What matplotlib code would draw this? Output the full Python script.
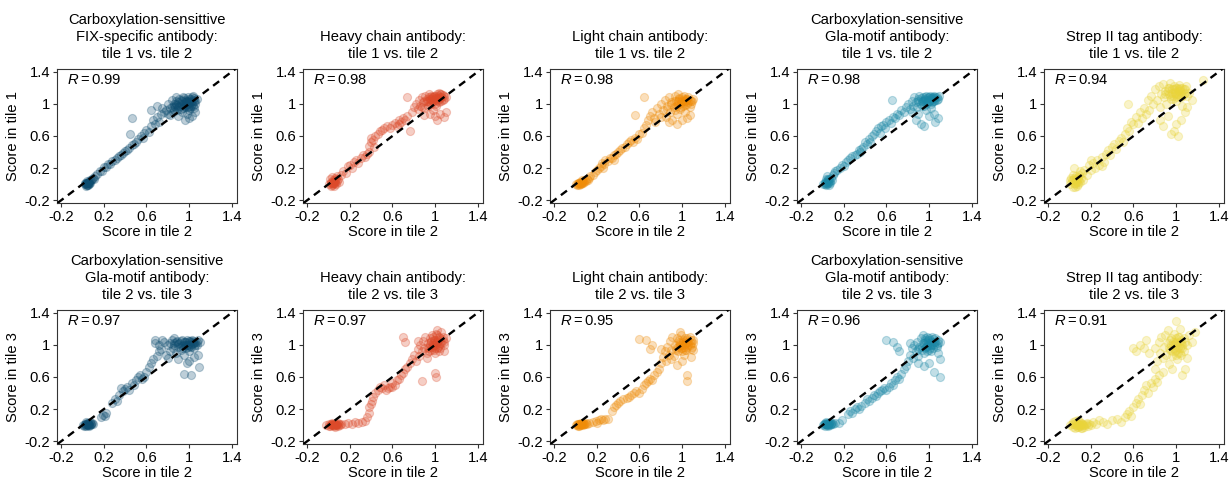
# 10个散点图：比较不同抗体在各tile之间的得分
import matplotlib
matplotlib.use('Agg')
from matplotlib import pyplot as plt

plt.rcParams['font.family'] = ['Liberation Sans', 'DejaVu Sans']
plt.rcParams['mathtext.fontset'] = 'custom'
plt.rcParams['mathtext.rm'] = 'Liberation Sans'
plt.rcParams['mathtext.it'] = 'Liberation Sans:italic'

titles = [
    "Carboxylation-sensittive\nFIX-specific antibody:\ntile 1 vs. tile 2",
    "Heavy chain antibody:\ntile 1 vs. tile 2",
    "Light chain antibody:\ntile 1 vs. tile 2",
    "Carboxylation-sensitive\nGla-motif antibody:\ntile 1 vs. tile 2",
    "Strep II tag antibody:\ntile 1 vs. tile 2",
    "Carboxylation-sensitive\nGla-motif antibody:\ntile 2 vs. tile 3",
    "Heavy chain antibody:\ntile 2 vs. tile 3",
    "Light chain antibody:\ntile 2 vs. tile 3",
    "Carboxylation-sensitive\nGla-motif antibody:\ntile 2 vs. tile 3",
    "Strep II tag antibody:\ntile 2 vs. tile 3",
]
r_values = [0.99, 0.98, 0.98, 0.98, 0.94, 0.97, 0.97, 0.95, 0.96, 0.91]
y_labels = ["Score in tile 1", "Score in tile 3"]
x_label = "Score in tile 2"
ticks = [-0.2, 0.2, 0.6, 1, 1.4]
tick_labels = ["-0.2", "0.2", "0.6", "1", "1.4"]
colors = ["#0e4d70", "#dc4a2a", "#ef8c08", "#1a87a5", "#e9d43a"]

# (tile 2 score, other tile score)
fix_t12 = [(0.02,0.00),(0.03,0.02),(0.04,-0.01),(0.05,0.01),(0.03,-0.02),(0.06,0.03),(0.04,0.04),(0.07,0.02),
    (0.05,-0.01),(0.02,0.02),(0.08,0.05),(0.06,0.00),(0.09,0.07),(0.10,0.08),(0.12,0.10),(0.11,0.07),(0.04,0.01),(0.07,0.05),
    (0.03,0.00),(0.04,0.02),(0.05,0.03),(0.06,0.01),(0.04,-0.01),(0.05,0.02),
    (0.14,0.13),(0.16,0.16),(0.18,0.17),(0.20,0.21),(0.22,0.21),(0.24,0.25),(0.26,0.25),(0.28,0.29),(0.30,0.30),
    (0.32,0.32),(0.34,0.35),(0.36,0.36),(0.38,0.39),(0.40,0.41),(0.42,0.43),(0.44,0.45),(0.46,0.49),(0.48,0.50),
    (0.50,0.53),(0.45,0.62),(0.52,0.56),(0.55,0.60),(0.57,0.57),(0.58,0.64),(0.60,0.68),(0.62,0.65),(0.64,0.72),
    (0.66,0.80),(0.68,0.75),(0.70,0.84),(0.72,0.78),(0.74,0.87),(0.75,0.95),(0.76,0.90),(0.46,0.82),(0.64,0.92),(0.70,0.98),
    (0.78,0.92),(0.80,1.00),(0.82,0.95),(0.84,1.05),(0.85,0.90),(0.86,1.00),(0.87,0.96),(0.88,1.08),(0.89,0.92),
    (0.90,1.02),(0.91,0.98),(0.92,1.05),(0.93,0.90),(0.94,1.00),(0.95,1.07),(0.96,0.96),(0.97,1.03),(0.98,0.88),
    (0.99,1.00),(1.00,1.06),(1.01,0.95),(1.02,1.02),(1.03,1.08),(1.04,0.98),(1.05,1.04),(1.06,1.00),(1.07,1.06),
    (1.00,0.82),(1.03,0.85),(0.96,0.80),(1.06,0.90),(0.90,0.85),(0.82,0.86),(0.88,1.00),(0.94,1.09),(0.98,1.04),
    (1.02,0.98),(0.92,0.94),(0.86,0.93),(1.04,1.10),(0.80,0.88),(0.84,0.96),(0.96,1.02),(1.00,0.92),(1.05,0.95),(0.99,1.09),
    (0.86,0.97),(0.88,1.03),(0.90,0.96),(0.92,1.00),(0.93,1.04),(0.95,0.98),(0.96,1.05),(0.97,0.99),(0.98,1.02),
    (1.00,0.98),(1.01,1.04),(1.02,1.06),(1.03,1.00),(1.04,1.05),(1.05,1.07),(0.99,0.96),(0.94,0.95),(0.91,1.06),
    (1.06,1.03),(0.89,0.99)]

heavy_t12 = [(0.00,0.00),(0.02,0.03),(0.03,-0.01),(0.04,0.05),(0.05,0.02),(0.06,0.08),(0.07,0.00),(0.08,0.04),
    (0.01,0.06),(0.03,0.09),(0.05,-0.02),(0.09,0.06),(0.10,0.03),(0.06,0.04),(0.02,-0.02),(0.08,0.10),(0.04,0.01),
    (0.03,0.02),(0.05,0.04),(0.04,0.00),(0.06,0.02),(0.02,0.01),(0.07,0.06),
    (0.12,0.12),(0.14,0.16),(0.16,0.14),(0.18,0.22),(0.20,0.24),(0.22,0.20),(0.24,0.28),(0.26,0.30),(0.28,0.26),
    (0.30,0.32),(0.32,0.36),(0.34,0.34),(0.36,0.38),(0.38,0.40),(0.38,0.48),(0.40,0.52),(0.40,0.58),(0.42,0.55),
    (0.43,0.46),(0.44,0.60),(0.46,0.62),(0.48,0.66),(0.50,0.68),(0.52,0.70),(0.55,0.72),(0.58,0.70),(0.60,0.74),
    (0.62,0.76),(0.64,0.73),(0.66,0.80),(0.68,0.78),(0.70,0.82),(0.72,0.80),(0.74,0.85),(0.76,0.66),(0.74,1.09),(0.66,0.75),
    (0.78,0.90),(0.80,0.96),(0.82,1.00),(0.84,0.94),(0.85,1.05),(0.86,0.98),(0.88,1.08),(0.89,1.02),(0.90,0.95),
    (0.91,1.10),(0.92,1.04),(0.93,0.98),(0.94,1.12),(0.95,1.06),(0.96,1.00),(0.97,1.08),(0.98,1.03),(0.99,1.10),
    (1.00,1.05),(1.01,0.98),(1.02,1.12),(1.03,1.07),(1.04,1.02),(1.05,1.09),(1.06,1.04),(1.07,1.11),(1.08,1.06),
    (1.10,1.08),(1.00,0.85),(1.02,0.80),(1.05,0.88),(1.08,0.84),(0.95,0.88),(0.98,0.92),(0.90,0.86),(1.10,0.90),
    (0.88,0.96),(0.96,1.10),(1.04,1.14),(0.93,1.04),
    (0.92,1.06),(0.94,1.08),(0.96,1.06),(0.97,1.04),(0.98,1.09),(0.99,1.06),(1.00,1.10),(1.01,1.07),(1.02,1.05),
    (1.03,1.10),(1.04,1.06),(1.05,1.12),(1.06,1.08),(1.07,1.05),(1.08,1.10),(0.95,1.02),(1.00,1.00),(1.03,1.03),
    (0.90,1.04),(1.06,1.12)]

light_t12 = [(0.00,0.00),(0.02,0.02),(0.03,-0.01),(0.04,0.03),(0.05,0.00),(0.06,0.02),(0.07,0.04),(0.08,0.03),
    (0.09,0.05),(0.10,0.04),(0.11,0.06),(0.12,0.05),(0.13,0.08),(0.03,0.01),(0.06,0.05),(0.01,-0.01),(0.14,0.10),
    (0.03,0.02),(0.05,0.01),(0.04,0.00),(0.06,0.03),(0.02,0.00),(0.07,0.02),
    (0.16,0.12),(0.18,0.15),(0.20,0.18),(0.22,0.20),(0.24,0.22),(0.25,0.26),(0.27,0.25),(0.28,0.30),(0.30,0.29),
    (0.32,0.33),(0.34,0.32),(0.36,0.36),(0.38,0.38),(0.40,0.40),(0.42,0.42),(0.44,0.45),(0.46,0.46),(0.48,0.50),
    (0.50,0.52),(0.52,0.55),(0.54,0.52),(0.56,0.58),(0.58,0.56),(0.60,0.62),(0.62,0.64),(0.64,0.70),(0.66,0.74),
    (0.68,0.80),(0.56,0.86),(0.64,1.09),(0.26,0.20),(0.36,0.30),
    (0.70,0.85),(0.72,0.90),(0.74,0.82),(0.76,0.95),(0.78,0.88),(0.80,1.00),(0.82,0.92),(0.84,1.05),(0.85,0.84),
    (0.86,0.98),(0.88,1.08),(0.89,0.90),(0.90,1.02),(0.91,0.80),(0.92,0.96),(0.93,1.10),(0.94,1.04),(0.95,0.88),
    (0.96,1.00),(0.97,1.06),(0.98,0.94),(0.99,1.02),(1.00,1.08),(1.01,0.98),(1.02,1.04),(1.03,0.90),(1.04,1.06),
    (1.05,1.00),(1.06,1.08),(1.07,0.96),(1.08,1.04),(1.10,1.06),(0.95,0.75),(1.00,0.80),(1.05,0.82),(0.88,0.78),
    (0.80,0.84),(0.75,0.78),(1.02,1.10),(0.96,1.12),(1.07,0.86),
    (0.90,1.00),(0.92,1.04),(0.94,0.98),(0.96,1.04),(0.98,1.00),(1.00,1.04),(1.01,1.01),(1.02,1.06),(1.03,0.99),
    (1.04,1.03),(1.05,1.06),(1.06,1.02),(1.07,1.05),(1.08,1.00),(1.09,1.04),(0.97,1.07),(0.99,0.96),(1.03,1.05),
    (0.86,0.94),(0.93,0.92)]

gla_t12 = [(0.00,0.00),(0.02,0.03),(0.03,-0.01),(0.04,0.05),(0.05,0.02),(0.06,0.06),(0.07,0.01),(0.08,0.08),
    (0.02,0.00),(0.04,0.10),(0.06,-0.01),(0.09,0.05),(0.10,0.12),(0.03,0.06),(0.07,0.04),(0.11,0.14),
    (0.03,0.02),(0.05,0.04),(0.04,0.00),(0.06,0.03),(0.02,0.02),(0.05,0.06),
    (0.12,0.16),(0.14,0.18),(0.16,0.20),(0.18,0.24),(0.20,0.22),(0.22,0.28),(0.24,0.30),(0.26,0.32),(0.28,0.35),
    (0.30,0.36),(0.32,0.38),(0.34,0.42),(0.36,0.44),(0.38,0.46),(0.40,0.52),(0.42,0.50),(0.44,0.56),(0.46,0.60),
    (0.48,0.62),(0.50,0.66),(0.52,0.70),(0.54,0.64),(0.55,0.72),(0.57,0.74),(0.59,0.70),(0.60,0.78),(0.62,0.80),
    (0.64,0.76),(0.65,1.05),(0.66,0.84),(0.68,0.82),(0.70,0.88),(0.72,0.86),(0.74,0.92),(0.76,0.90),(0.35,0.40),(0.45,0.53),
    (0.78,0.96),(0.80,1.00),(0.82,0.94),(0.84,1.04),(0.85,0.98),(0.86,1.08),(0.88,1.02),(0.89,0.96),(0.90,1.06),
    (0.91,1.10),(0.92,1.00),(0.93,1.04),(0.94,1.08),(0.95,0.98),(0.96,1.06),(0.97,1.10),(0.98,1.02),(0.99,1.08),
    (1.00,1.04),(1.01,1.10),(1.02,1.00),(1.03,1.06),(1.04,1.09),(1.05,1.03),(1.06,1.08),(1.07,1.05),(1.09,1.10),
    (0.88,0.80),(0.92,0.75),(0.95,0.72),(1.00,0.85),(1.05,0.88),(1.08,0.82),(1.06,0.78),(0.90,0.88),(0.97,0.92),
    (0.84,0.90),(1.02,0.95),
    (0.90,1.04),(0.92,1.07),(0.94,1.03),(0.96,1.08),(0.98,1.05),(1.00,1.08),(1.01,1.04),(1.02,1.07),(1.03,1.09),
    (1.04,1.04),(1.05,1.07),(1.06,1.05),(1.07,1.09),(1.08,1.06),(0.95,1.05),(0.99,1.02),(1.03,1.02),(0.97,1.00),
    (0.93,0.98),(1.05,1.10)]

strep_t12 = [(0.00,0.00),(0.02,0.05),(0.03,-0.03),(0.04,0.08),(0.05,0.02),(0.06,0.10),(0.07,-0.02),(0.08,0.06),
    (0.09,0.12),(0.10,0.03),(0.11,0.08),(0.12,0.14),(0.03,0.12),(0.06,0.04),(0.01,0.08),(0.05,-0.04),(0.08,0.00),
    (0.13,0.05),(0.14,0.18),(0.04,0.20),(0.10,0.16),(0.00,0.05),
    (0.04,0.02),(0.06,0.06),(0.05,0.00),(0.07,0.03),(0.08,0.09),(0.03,0.05),(0.09,0.04),
    (0.16,0.12),(0.18,0.24),(0.20,0.18),(0.22,0.26),(0.24,0.20),(0.26,0.30),(0.28,0.24),(0.30,0.34),(0.32,0.28),
    (0.34,0.38),(0.36,0.42),(0.38,0.36),(0.40,0.46),(0.42,0.50),(0.44,0.44),(0.46,0.54),(0.48,0.58),(0.50,0.52),
    (0.52,0.62),(0.54,0.70),(0.56,0.66),(0.58,0.78),(0.60,0.75),(0.62,0.84),(0.64,0.76),(0.66,0.90),(0.55,1.00),
    (0.68,0.82),(0.70,0.95),(0.72,0.88),(0.74,1.05),(0.75,0.92),(0.20,0.30),(0.30,0.22),
    (0.76,1.10),(0.78,1.00),(0.80,1.18),(0.82,1.05),(0.84,1.22),(0.85,0.96),(0.86,1.12),(0.88,1.25),(0.89,1.08),
    (0.90,1.16),(0.91,1.00),(0.92,1.20),(0.93,1.12),(0.94,1.26),(0.95,1.06),(0.96,1.18),(0.97,1.10),(0.98,1.22),
    (0.99,1.14),(1.00,1.04),(1.01,1.20),(1.02,1.12),(1.03,1.24),(1.04,1.16),(1.05,1.08),(1.06,1.20),(1.07,1.12),
    (1.08,1.18),(1.10,1.10),(1.12,1.14),(1.25,1.30),(0.95,0.62),(0.98,0.66),(1.02,0.60),(1.00,0.75),(1.05,0.80),
    (1.08,0.90),(1.10,0.96),(0.92,0.85),(0.88,0.72),(0.85,0.80),(1.15,1.05),(1.06,0.98),
    (0.90,1.12),(0.92,1.16),(0.94,1.10),(0.96,1.14),(0.98,1.18),(1.00,1.12),(1.00,1.20),(1.02,1.16),(1.03,1.10),
    (1.04,1.20),(1.05,1.14),(1.06,1.10),(1.07,1.18),(1.08,1.14),(0.97,1.06),(1.01,1.08),(0.93,1.20),(1.09,1.22),
    (0.99,1.15),(1.03,1.18)]

gla_t23_a = [(0.00,0.00),(0.02,0.02),(0.03,-0.01),(0.04,0.03),(0.05,0.00),(0.06,0.02),(0.07,0.04),(0.08,0.01),
    (0.09,0.03),(0.03,0.04),(0.05,0.03),(0.01,-0.01),(0.06,-0.01),(0.10,0.02),(0.04,0.00),(0.07,0.00),
    (0.03,0.01),(0.05,0.02),(0.04,0.02),(0.06,0.00),(0.02,0.00),(0.08,0.02),
    (0.17,0.10),(0.19,0.13),(0.21,0.12),(0.22,0.15),(0.28,0.28),(0.30,0.32),(0.32,0.30),(0.34,0.38),(0.36,0.46),
    (0.38,0.42),(0.40,0.45),(0.42,0.48),(0.44,0.44),(0.46,0.52),(0.48,0.50),(0.50,0.56),(0.52,0.60),(0.54,0.62),
    (0.56,0.58),(0.58,0.60),(0.60,0.66),(0.62,0.72),(0.64,0.78),(0.66,0.82),(0.68,1.02),(0.68,1.06),(0.70,0.86),(0.72,0.92),
    (0.72,1.00),(0.74,0.95),(0.76,1.04),(0.78,0.88),(0.80,1.00),(0.82,0.92),(0.84,1.06),(0.85,0.96),(0.86,1.02),
    (0.88,0.90),(0.89,1.05),(0.90,0.98),(0.91,1.02),(0.92,0.94),(0.93,1.06),(0.94,1.00),(0.95,0.88),(0.96,1.04),
    (0.97,0.96),(0.98,1.06),(0.99,1.00),(1.00,0.92),(1.01,1.05),(1.02,0.98),(1.03,1.06),(1.04,1.02),(1.05,0.96),
    (1.06,1.04),(1.07,1.00),(1.08,1.06),(1.10,1.04),(0.95,0.64),(1.02,0.62),(1.09,0.72),(1.00,0.80),(1.05,0.85),
    (0.90,0.82),(0.80,0.84),(1.08,0.88),(0.86,1.08),(0.75,1.06),(0.98,0.78),
    (0.86,1.00),(0.88,1.04),(0.90,1.01),(0.92,1.05),(0.93,0.99),(0.95,1.03),(0.96,1.00),(0.97,1.04),(0.98,1.00),
    (1.00,1.05),(1.01,0.99),(1.02,1.03),(1.03,1.01),(1.04,1.05),(1.05,1.02),(1.06,1.00),(1.07,1.04),(0.94,0.96),
    (0.99,0.97),(0.82,1.02)]

heavy_t23 = [(-0.02,0.00),(0.00,0.01),(0.01,-0.01),(0.02,0.02),(0.03,0.00),(0.04,0.01),(0.05,-0.01),(0.06,0.02),
    (0.07,0.00),(0.08,0.01),(0.09,-0.01),(0.10,0.02),(0.11,0.00),(0.03,0.03),(0.06,-0.02),(0.09,0.03),(0.12,0.01),(0.00,-0.01),
    (0.02,0.00),(0.04,0.00),(0.05,0.01),(0.07,0.01),(0.08,0.00),(0.03,0.01),(0.06,0.00),
    (0.15,0.02),(0.18,0.03),(0.22,0.02),(0.25,0.04),(0.28,0.03),(0.31,0.04),(0.34,0.05),(0.36,0.10),(0.38,0.15),
    (0.38,0.22),(0.40,0.26),(0.41,0.30),(0.42,0.35),(0.44,0.40),(0.46,0.44),(0.48,0.48),(0.50,0.46),(0.52,0.50),
    (0.54,0.44),(0.56,0.46),(0.58,0.48),(0.60,0.52),(0.62,0.50),(0.64,0.56),(0.66,0.58),(0.68,0.62),(0.70,0.65),
    (0.72,0.70),(0.74,0.72),(0.76,0.78),(0.70,1.10),(0.72,1.04),(0.60,0.48),
    (0.78,0.82),(0.80,0.88),(0.82,0.80),(0.84,0.95),(0.85,0.86),(0.86,1.00),(0.88,0.92),(0.89,1.05),(0.90,0.96),
    (0.91,1.10),(0.92,0.90),(0.93,1.02),(0.94,0.98),(0.95,1.08),(0.96,0.94),(0.97,1.12),(0.98,1.00),(0.99,1.06),
    (1.00,0.96),(1.01,1.14),(1.02,1.04),(1.03,0.98),(1.04,1.10),(1.05,1.02),(1.06,1.16),(1.07,1.06),(1.08,1.00),
    (1.10,1.08),(1.02,1.18),(0.96,1.04),(1.00,0.90),(1.04,0.92),(0.88,0.55),(1.00,0.65),(1.01,0.60),(0.92,0.84),
    (0.84,1.05),(1.08,0.92),
    (0.93,0.96),(0.95,1.00),(0.96,1.05),(0.97,0.98),(0.98,1.02),(0.99,0.94),(1.00,1.00),(1.00,1.06),(1.01,1.02),
    (1.02,0.96),(1.03,1.06),(1.04,1.00),(1.05,1.08),(1.06,1.02),(1.07,1.10),(1.08,1.04),(0.98,1.10),(1.02,1.12),
    (0.94,0.92),(1.05,0.96)]

light_t23 = [(0.00,0.00),(0.01,0.01),(0.02,-0.01),(0.03,0.02),(0.04,0.00),(0.05,0.01),(0.06,0.02),(0.07,0.00),
    (0.08,0.02),(0.09,0.01),(0.10,0.03),(0.11,0.02),(0.03,-0.01),(0.05,0.03),(0.07,0.03),(0.02,0.02),
    (0.03,0.01),(0.05,0.00),(0.04,0.02),(0.06,0.01),(0.02,0.00),(0.08,0.01),
    (0.13,0.03),(0.16,0.04),(0.19,0.05),(0.22,0.06),(0.24,0.08),(0.26,0.07),(0.28,0.08),(0.30,0.08),(0.20,0.03),
    (0.34,0.18),(0.36,0.22),(0.38,0.25),(0.40,0.28),(0.42,0.30),(0.45,0.32),(0.48,0.34),(0.50,0.35),(0.52,0.38),
    (0.55,0.40),(0.57,0.42),(0.60,0.40),(0.62,0.45),(0.64,0.50),(0.66,0.52),(0.68,0.55),(0.70,0.58),(0.72,0.56),
    (0.74,0.62),(0.76,0.66),(0.78,0.70),(0.60,1.07),(0.66,1.06),(0.70,0.95),(0.72,1.00),
    (0.80,0.78),(0.82,0.85),(0.84,0.92),(0.85,0.80),(0.86,0.98),(0.88,0.88),(0.89,1.05),(0.90,0.94),(0.91,1.10),
    (0.92,0.86),(0.93,1.00),(0.94,0.96),(0.95,1.08),(0.96,0.92),(0.97,1.04),(0.98,1.00),(0.99,1.12),(1.00,0.96),
    (1.01,1.06),(1.02,1.00),(1.03,1.08),(1.04,0.94),(1.05,1.04),(1.06,1.00),(1.07,1.10),(1.08,1.02),(1.10,1.06),
    (1.10,0.94),(1.05,0.55),(1.05,0.62),(1.00,0.80),(1.08,0.85),(0.95,0.75),(0.90,0.82),(0.80,0.95),(0.98,1.16),(1.02,0.88),
    (0.96,0.98),(0.98,1.02),(0.99,0.96),(1.00,1.00),(1.01,1.04),(1.02,0.97),(1.03,1.02),(1.04,1.06),(1.05,0.98),
    (1.06,1.04),(1.07,1.00),(1.08,1.06),(1.09,0.98),(1.10,1.02),(1.00,0.92),(1.03,0.94),(0.97,1.06),(1.05,1.08),
    (0.94,0.94),(1.08,0.95)]

gla_t23_b = [(0.00,0.00),(0.01,0.02),(0.02,-0.01),(0.03,0.01),(0.04,0.03),(0.05,0.00),(0.06,0.02),(0.07,0.04),
    (0.08,0.01),(0.09,0.03),(0.10,0.02),(0.03,0.04),(0.05,-0.01),(0.07,0.00),(0.12,0.03),(0.02,0.03),
    (0.03,0.02),(0.05,0.01),(0.04,0.00),(0.06,0.03),(0.02,0.01),(0.08,0.02),
    (0.15,0.03),(0.18,0.06),(0.24,0.14),(0.26,0.18),(0.28,0.15),(0.30,0.20),(0.32,0.22),(0.34,0.20),(0.36,0.24),
    (0.40,0.28),(0.42,0.32),(0.44,0.30),(0.46,0.34),(0.48,0.38),(0.50,0.36),(0.52,0.40),(0.54,0.42),(0.56,0.44),
    (0.58,0.46),(0.60,0.44),(0.62,0.48),(0.64,0.52),(0.66,0.50),(0.68,0.56),(0.70,0.60),(0.72,0.58),(0.74,0.64),
    (0.76,0.70),(0.78,0.74),(0.60,1.06),(0.66,1.04),(0.70,0.98),(0.72,0.92),
    (0.80,0.80),(0.82,0.88),(0.84,0.96),(0.85,0.84),(0.86,1.00),(0.88,0.92),(0.89,1.04),(0.90,0.86),(0.91,0.98),
    (0.92,1.08),(0.93,0.94),(0.94,1.02),(0.95,0.90),(0.96,1.06),(0.97,0.98),(0.98,1.10),(0.99,1.02),(1.00,0.94),
    (1.01,1.06),(1.02,1.00),(1.03,1.10),(1.04,0.96),(1.05,1.04),(1.06,1.08),(1.07,1.00),(1.08,1.06),(1.10,1.04),
    (1.10,0.60),(1.05,0.66),(1.10,0.82),(1.00,0.78),(0.95,0.74),(0.90,0.78),(1.08,0.90),(0.82,1.02),(0.94,1.12),
    (0.93,0.98),(0.95,1.02),(0.96,0.96),(0.97,1.04),(0.98,0.99),(0.99,1.06),(1.00,1.00),(1.01,0.96),(1.02,1.04),
    (1.03,1.00),(1.04,1.07),(1.05,1.00),(1.06,1.04),(1.07,0.98),(1.08,1.02),(0.98,0.92),(1.02,0.92),(0.96,1.08),
    (1.00,1.09),(0.90,0.95)]

strep_t23 = [(0.00,0.00),(0.02,0.02),(0.03,-0.02),(0.04,0.01),(0.05,-0.03),(0.06,0.03),(0.07,0.00),(0.08,-0.02),
    (0.09,0.02),(0.10,0.00),(0.11,-0.03),(0.12,0.02),(0.13,0.00),(0.14,-0.02),(0.15,0.01),(0.16,0.03),(0.17,-0.01),
    (0.18,0.01),(0.05,0.05),(0.10,0.04),(0.08,0.06),(0.12,-0.04),(0.20,0.00),(0.03,0.04),
    (0.06,0.00),(0.08,0.02),(0.10,-0.01),(0.12,0.01),(0.07,-0.02),(0.11,0.03),(0.14,0.00),(0.09,0.00),
    (0.22,0.04),(0.25,0.02),(0.28,0.06),(0.31,0.04),(0.35,0.02),(0.40,0.06),(0.45,0.08),(0.48,0.04),(0.52,0.10),
    (0.54,0.14),(0.56,0.18),(0.58,0.12),(0.60,0.22),(0.62,0.28),(0.64,0.32),(0.66,0.26),(0.68,0.38),(0.70,0.44),
    (0.72,0.50),(0.74,0.40),(0.76,0.52),(0.78,0.48),(0.80,0.58),(0.82,0.54),(0.84,0.62),(0.60,0.96),(0.66,1.00),
    (0.62,0.92),(0.70,0.96),(0.72,1.06),(0.75,0.90),
    (0.80,0.96),(0.82,0.80),(0.84,1.04),(0.85,0.90),(0.86,1.10),(0.88,0.84),(0.89,0.98),(0.90,1.12),(0.91,0.88),
    (0.92,1.02),(0.93,0.76),(0.94,0.94),(0.95,1.08),(0.96,0.86),(0.97,1.00),(0.98,1.14),(0.99,0.92),(1.00,1.04),
    (1.01,0.82),(1.02,0.98),(1.03,1.10),(1.04,0.90),(1.05,1.02),(1.06,0.96),(1.07,1.08),(1.08,0.70),(1.10,1.00),
    (1.12,1.12),(1.15,1.04),(1.18,1.16),(1.00,1.30),(1.06,0.62),(0.96,0.70),(0.88,0.66),(0.80,0.70),(1.10,0.84),
    (0.92,1.18),(1.04,1.20),
    (0.93,0.96),(0.95,1.00),(0.96,0.92),(0.97,1.04),(0.98,0.96),(0.99,1.02),(1.00,0.94),(1.00,1.08),(1.01,1.00),
    (1.02,0.90),(1.03,1.04),(1.04,0.96),(1.05,1.06),(1.06,1.00),(1.07,0.92),(1.08,1.04),(1.00,0.88),(0.94,1.06),
    (1.02,1.10),(1.05,0.88)]

panels = [fix_t12, heavy_t12, light_t12, gla_t12, strep_t12,
          gla_t23_a, heavy_t23, light_t23, gla_t23_b, strep_t23]

fig = plt.figure(figsize=(12.31, 4.82), dpi=100)
lefts = [57, 303, 550, 797, 1044]
bottoms = [1 - 203 / 482, 1 - 444 / 482]
w = 180 / 1231
h = 134 / 482
fs = 10.6

for i in range(10):
    row = i // 5
    col = i % 5
    ax = fig.add_axes([lefts[col] / 1231, bottoms[row], w, h])
    xs = [p[0] for p in panels[i]]
    ys = [p[1] for p in panels[i]]
    ax.scatter(xs, ys, s=34, color=colors[col], alpha=0.27, linewidths=0.8, zorder=2)
    ax.axline((0, 0), (1, 1), color='black', lw=1.7, dashes=(3.2, 2.3), zorder=3)
    ax.set_xlim(-0.24, 1.45)
    ax.set_ylim(-0.235, 1.435)
    ax.set_xticks(ticks)
    ax.set_xticklabels(tick_labels)
    ax.set_yticks(ticks)
    ax.set_yticklabels(tick_labels)
    ax.tick_params(labelsize=fs, length=3, width=0.8, color='#333333', pad=2)
    for sp in ax.spines.values():
        sp.set_color('#333333')
        sp.set_linewidth(0.8)
    ax.set_title(titles[i], fontsize=fs, linespacing=1.25, pad=8)
    ax.set_xlabel(x_label, fontsize=fs, labelpad=1)
    ax.set_ylabel(y_labels[row], fontsize=fs, labelpad=3)
    ax.text(0.055, 0.915, r"$R = %.2f$" % r_values[i], transform=ax.transAxes,
            fontsize=fs, va='center', ha='left')

plt.savefig("out.png", dpi=100)
